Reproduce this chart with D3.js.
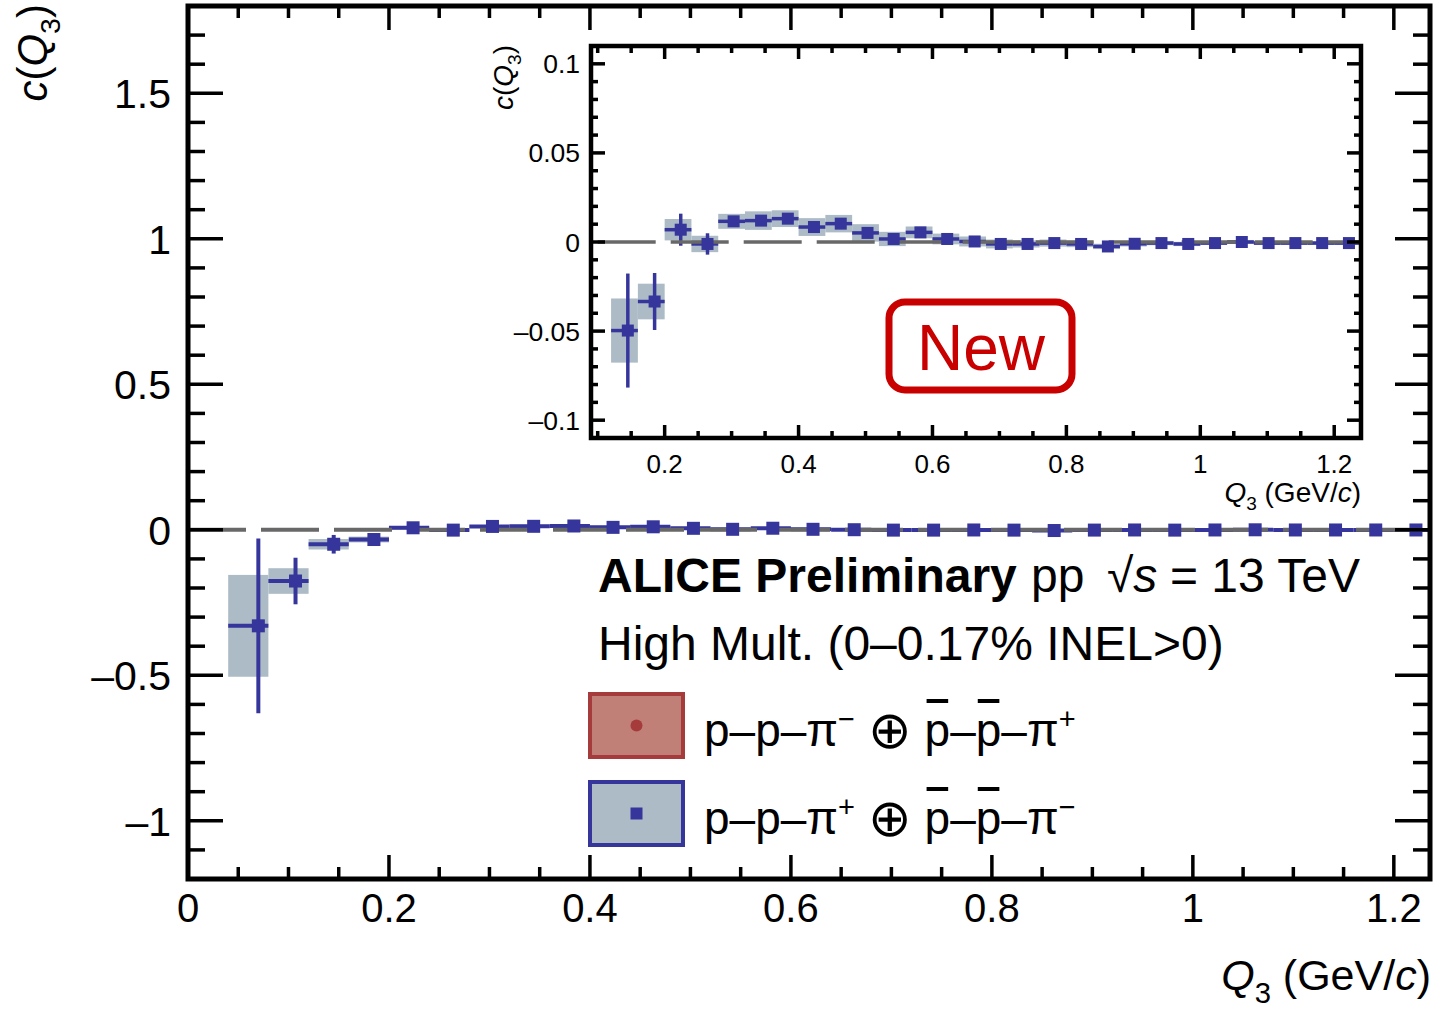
<!DOCTYPE html>
<html>
<head>
<meta charset="utf-8">
<script src="https://cdn.jsdelivr.net/npm/d3@7"></script>
<style>
  body { margin: 0; background: #fff; }
  svg { display: block; }
</style>
</head>
<body>
<svg id="chart" width="1447" height="1009"></svg>
<script>
// three-particle correlation c(Q3), p-p-pi+ (+) pbar-pbar-pi-
let binLo = [0.04, 0.08, 0.12, 0.16, 0.20, 0.24, 0.28, 0.32, 0.36, 0.40, 0.44, 0.48, 0.52, 0.56, 0.60,
             0.64, 0.68, 0.72, 0.76, 0.80, 0.84, 0.88, 0.92, 0.96, 1.00, 1.04, 1.08, 1.12, 1.16, 1.20];
let binHi = [0.08, 0.12, 0.16, 0.20, 0.24, 0.28, 0.32, 0.36, 0.40, 0.44, 0.48, 0.52, 0.56, 0.60, 0.64,
             0.68, 0.72, 0.76, 0.80, 0.84, 0.88, 0.92, 0.96, 1.00, 1.04, 1.08, 1.12, 1.16, 1.20, 1.24];
let qMean = [0.070, 0.107, 0.145, 0.185, 0.224, 0.264, 0.303, 0.344, 0.384, 0.423, 0.463, 0.503, 0.542, 0.582, 0.622,
             0.663, 0.702, 0.742, 0.782, 0.822, 0.862, 0.902, 0.942, 0.982, 1.022, 1.062, 1.102, 1.142, 1.182, 1.222];
let cVal = [-0.330, -0.176, -0.0497, -0.0334, 0.0069, -0.0011, 0.0116, 0.0120, 0.0131, 0.0084, 0.0103, 0.0051, 0.0017, 0.0054, 0.0017,
            0.0003, -0.0011, -0.0011, -0.0006, -0.0011, -0.0025, -0.0010, -0.0006, -0.0011, -0.0006, 0.0000, -0.0006, -0.0006, -0.0006, -0.0006];
let statErr = [0.30, 0.080, 0.032, 0.016, 0.009, 0.006, 0.003, 0.003, 0.003, 0.003, 0.003, 0.003, 0.002, 0.002, 0.002,
               0.002, 0.002, 0.002, 0.002, 0.002, 0.002, 0.002, 0.002, 0.001, 0.001, 0.001, 0.001, 0.001, 0.001, 0.001];
let sysErr = [0.175, 0.044, 0.018, 0.010, 0.006, 0.0046, 0.0042, 0.0052, 0.0047, 0.0050, 0.0049, 0.0049, 0.0040, 0.0033, 0.0030,
              0.0028, 0.0025, 0.0020, 0.0020, 0.0018, 0.0015, 0.0015, 0.0012, 0.0012, 0.0010, 0.0010, 0.0010, 0.0010, 0.0010, 0.0010];

let mainXTicks = [0, 0.2, 0.4, 0.6, 0.8, 1, 1.2];
let mainYTicks = [-1, -0.5, 0, 0.5, 1, 1.5];
let insetXTicks = [0.2, 0.4, 0.6, 0.8, 1, 1.2];
let insetYTicks = [-0.1, -0.05, 0, 0.05, 0.1];

let legendLabels = ["p\u2013p\u2013\u03c0", "p\u2013p\u2013\u03c0"];

const FONT = "'Liberation Sans', Arial, Helvetica, sans-serif";
const BLUE = "#35359b";
const SYS = "#adbbc6";

let points = qMean.map((q, i) => ({q: q, lo: binLo[i], hi: binHi[i], c: cVal[i], st: statErr[i], sy: sysErr[i]}));

let svg = d3.select("#chart");

function fmt(d) {
    return d < 0 ? "\u2013" + Math.abs(d) : String(d);
}

// draws ticks on all four sides, pointing inward
function drawTicks(g, xs, ys, o) {
    let [xl, xr] = xs.range();
    let [yb, yt] = ys.range();
    let dx1 = xs.domain()[1];
    let dy1 = ys.domain()[1];
    let segs = [];
    d3.range(o.xMinorStart, dx1 + 1e-9, o.xMinor).forEach(v => {
        let isMaj = Math.abs(v / o.xMajor - Math.round(v / o.xMajor)) < 1e-6;
        let L = isMaj ? o.xMajLen : o.xMinLen;
        segs.push([xs(v), yb, xs(v), yb - L]);
        segs.push([xs(v), yt, xs(v), yt + L]);
    });
    d3.range(o.yMinorStart, dy1 + 1e-9, o.yMinor).forEach(v => {
        let isMaj = Math.abs(v / o.yMajor - Math.round(v / o.yMajor)) < 1e-6;
        let L = isMaj ? o.yMajLen : o.yMinLen;
        segs.push([xl, ys(v), xl + L, ys(v)]);
        segs.push([xr, ys(v), xr - L, ys(v)]);
    });
    g.append("g").selectAll("line")
        .data(segs)
        .enter()
        .append("line")
        .attr("x1", d => d[0]).attr("y1", d => d[1])
        .attr("x2", d => d[2]).attr("y2", d => d[3])
        .attr("stroke", "#000")
        .attr("stroke-width", o.tickW);
}

function drawData(g, xs, ys, pts, o) {
    g.append("g").selectAll("rect")
        .data(pts)
        .enter()
        .append("rect")
        .attr("x", d => xs(d.lo))
        .attr("y", d => ys(d.c + d.sy))
        .attr("width", d => xs(d.hi) - xs(d.lo))
        .attr("height", d => ys(d.c - d.sy) - ys(d.c + d.sy))
        .attr("fill", SYS);

    let bars = g.append("g").attr("stroke", BLUE).attr("stroke-width", o.barW);
    bars.selectAll("line.h")
        .data(pts)
        .enter()
        .append("line")
        .attr("class", "h")
        .attr("x1", d => xs(d.lo)).attr("x2", d => xs(d.hi))
        .attr("y1", d => ys(d.c)).attr("y2", d => ys(d.c));
    bars.selectAll("line.v")
        .data(pts)
        .enter()
        .append("line")
        .attr("class", "v")
        .attr("x1", d => xs(d.q)).attr("x2", d => xs(d.q))
        .attr("y1", d => ys(d.c + d.st)).attr("y2", d => ys(d.c - d.st));

    // zero line
    g.append("line")
        .attr("x1", xs(o.lineFrom)).attr("x2", xs.range()[1])
        .attr("y1", ys(0)).attr("y2", ys(0))
        .attr("stroke", "#686868")
        .attr("stroke-width", o.dashW)
        .attr("stroke-dasharray", "58,15");

    let m = o.marker;
    g.append("g").selectAll("rect")
        .data(pts)
        .enter()
        .append("rect")
        .attr("x", d => xs(d.q) - m / 2)
        .attr("y", d => ys(d.c) - m / 2)
        .attr("width", m)
        .attr("height", m)
        .attr("fill", BLUE);
}

// subscripted title like Q_3 (GeV/c)
function qTitle(t, size) {
    t.append("tspan").attr("font-style", "italic").text("Q");
    t.append("tspan").attr("font-size", size * 0.68).attr("dy", size * 0.3).text("3");
    t.append("tspan").attr("dy", -size * 0.3).text(" (GeV/");
    t.append("tspan").attr("font-style", "italic").text("c");
    t.append("tspan").text(")");
}
function cTitle(t, size) {
    t.append("tspan").attr("font-style", "italic").text("c");
    t.append("tspan").text("(");
    t.append("tspan").attr("font-style", "italic").text("Q");
    t.append("tspan").attr("font-size", size * 0.68).attr("dy", size * 0.3).text("3");
    t.append("tspan").attr("dy", -size * 0.3).text(")");
}

/* ---------------- main pad ---------------- */
let x = d3.scaleLinear().domain([0, 1.236]).range([188, 1430]);
let y = d3.scaleLinear().domain([-1.2, 1.8]).range([879, 6]);

let main = svg.append("g");
main.append("defs").append("clipPath").attr("id", "clipMain")
    .append("rect").attr("x", 188).attr("y", 6).attr("width", 1242).attr("height", 873);

let mainData = main.append("g").attr("clip-path", "url(#clipMain)");
drawData(mainData, x, y, points, {barW: 4, dashW: 4, marker: 13, lineFrom: 0});

drawTicks(main, x, y, {
    xMinorStart: 0, xMinor: 0.05, xMajor: 0.2, xMajLen: 24, xMinLen: 12,
    yMinorStart: -1.2, yMinor: 0.1, yMajor: 0.5, yMajLen: 35, yMinLen: 17, tickW: 3.5
});

main.append("rect")
    .attr("x", 188).attr("y", 6).attr("width", 1242).attr("height", 873)
    .attr("fill", "none").attr("stroke", "#000").attr("stroke-width", 5);

main.append("g").selectAll("text")
    .data(mainXTicks)
    .enter()
    .append("text")
    .attr("x", d => x(d))
    .attr("y", 922)
    .attr("text-anchor", "middle")
    .attr("font-family", FONT)
    .attr("font-size", 40)
    .text(fmt);

main.append("g").selectAll("text")
    .data(mainYTicks)
    .enter()
    .append("text")
    .attr("x", 171)
    .attr("y", d => y(d) + 15)
    .attr("text-anchor", "end")
    .attr("font-family", FONT)
    .attr("font-size", 41)
    .text(fmt);

let xt = main.append("text")
    .attr("x", 1431).attr("y", 990)
    .attr("text-anchor", "end")
    .attr("font-family", FONT)
    .attr("font-size", 43);
qTitle(xt, 43);

let yt = main.append("text")
    .attr("transform", "translate(47,4) rotate(-90)")
    .attr("text-anchor", "end")
    .attr("font-family", FONT)
    .attr("font-size", 42);
cTitle(yt, 42);

/* ---------------- labels ---------------- */
let l1 = main.append("text")
    .attr("x", 598).attr("y", 592)
    .attr("font-family", FONT)
    .attr("font-size", 48);
l1.append("tspan").attr("font-weight", "bold").text("ALICE Preliminary");
l1.append("tspan").attr("x", 1031).text("pp");
l1.append("tspan").attr("x", 1107).text("\u221a");
l1.append("tspan").attr("font-style", "italic").text("s");
l1.append("tspan").attr("x", 1170).text("= 13 TeV");

main.append("text")
    .attr("x", 598).attr("y", 660)
    .attr("font-family", FONT)
    .attr("font-size", 48)
    .text("High Mult. (0\u20130.17% INEL>0)");

/* ---------------- legend ---------------- */
let legendRows = [
    {fill: "#c08078", stroke: "#a53b3b", y: 694, sign1: "\u2212", sign2: "+", dot: "circle"},
    {fill: SYS, stroke: BLUE, y: 782, sign1: "+", sign2: "\u2212", dot: "square"}
];
legendRows.forEach((r, i) => {
    main.append("rect")
        .attr("x", 590).attr("y", r.y).attr("width", 93).attr("height", 63)
        .attr("fill", r.fill).attr("stroke", r.stroke).attr("stroke-width", 4);
    if (r.dot === "circle") {
        main.append("circle").attr("cx", 636.5).attr("cy", r.y + 31.5).attr("r", 6).attr("fill", r.stroke);
    } else {
        main.append("rect").attr("x", 630.5).attr("y", r.y + 25.5).attr("width", 12).attr("height", 12).attr("fill", r.stroke);
    }
    let t = main.append("text")
        .attr("x", 704).attr("y", r.y + 52)
        .attr("font-family", FONT)
        .attr("font-size", 46);
    t.append("tspan").text(legendLabels[i]);
    t.append("tspan").attr("font-size", 29).attr("dy", -17).text(r.sign1);
    t.append("tspan").attr("dy", 17).text(" ");
    t.append("tspan").attr("font-size", 52).attr("dy", 2).text("\u2295");
    t.append("tspan").attr("dy", -2).text(" ");
    let b1 = t.append("tspan").text("p");
    t.append("tspan").text("\u2013");
    let b2 = t.append("tspan").text("p");
    t.append("tspan").text("\u2013\u03c0");
    t.append("tspan").attr("font-size", 29).attr("dy", -17).text(r.sign2);
    [b1, b2].forEach(b => {
        let s = b.node().getStartPositionOfChar(0);
        let e = b.node().getEndPositionOfChar(0);
        main.append("line")
            .attr("x1", s.x + 2).attr("x2", e.x - 2)
            .attr("y1", r.y + 7).attr("y2", r.y + 7)
            .attr("stroke", "#000").attr("stroke-width", 4);
    });
});

/* ---------------- inset pad ---------------- */
let xi = d3.scaleLinear().domain([0.09, 1.24]).range([591, 1361]);
let yi = d3.scaleLinear().domain([-0.11, 0.11]).range([438, 46]);

let inset = svg.append("g");
inset.append("rect")
    .attr("x", 591).attr("y", 46).attr("width", 770).attr("height", 392)
    .attr("fill", "#fff");
inset.append("defs").append("clipPath").attr("id", "clipInset")
    .append("rect").attr("x", 591).attr("y", 46).attr("width", 770).attr("height", 392);

let insetData = inset.append("g").attr("clip-path", "url(#clipInset)");
drawData(insetData, xi, yi, points.filter(d => d.lo >= xi.domain()[0]), {barW: 3.5, dashW: 3.5, marker: 12, lineFrom: 0.1});

drawTicks(inset, xi, yi, {
    xMinorStart: 0.1, xMinor: 0.05, xMajor: 0.2, xMajLen: 13, xMinLen: 7,
    yMinorStart: -0.1, yMinor: 0.01, yMajor: 0.05, yMajLen: 14, yMinLen: 7, tickW: 3.5
});

inset.append("rect")
    .attr("x", 591).attr("y", 46).attr("width", 770).attr("height", 392)
    .attr("fill", "none").attr("stroke", "#000").attr("stroke-width", 4.5);

inset.append("g").selectAll("text")
    .data(insetXTicks)
    .enter()
    .append("text")
    .attr("x", d => xi(d))
    .attr("y", 473)
    .attr("text-anchor", "middle")
    .attr("font-family", FONT)
    .attr("font-size", 26)
    .text(fmt);

inset.append("g").selectAll("text")
    .data(insetYTicks)
    .enter()
    .append("text")
    .attr("x", 580)
    .attr("y", d => yi(d) + 9.5)
    .attr("text-anchor", "end")
    .attr("font-family", FONT)
    .attr("font-size", 26.5)
    .text(fmt);

let xti = inset.append("text")
    .attr("x", 1361).attr("y", 502)
    .attr("text-anchor", "end")
    .attr("font-family", FONT)
    .attr("font-size", 28);
qTitle(xti, 28);

let yti = inset.append("text")
    .attr("transform", "translate(513,45) rotate(-90)")
    .attr("text-anchor", "end")
    .attr("font-family", FONT)
    .attr("font-size", 28);
cTitle(yti, 28);

// "New" badge
inset.append("rect")
    .attr("x", 889).attr("y", 302).attr("width", 183).attr("height", 88)
    .attr("rx", 16).attr("ry", 16)
    .attr("fill", "none").attr("stroke", "#c80000").attr("stroke-width", 7);
inset.append("text")
    .attr("x", 981).attr("y", 370)
    .attr("text-anchor", "middle")
    .attr("font-family", FONT)
    .attr("font-size", 64)
    .attr("fill", "#c80000")
    .text("New");
</script>
</body>
</html>
